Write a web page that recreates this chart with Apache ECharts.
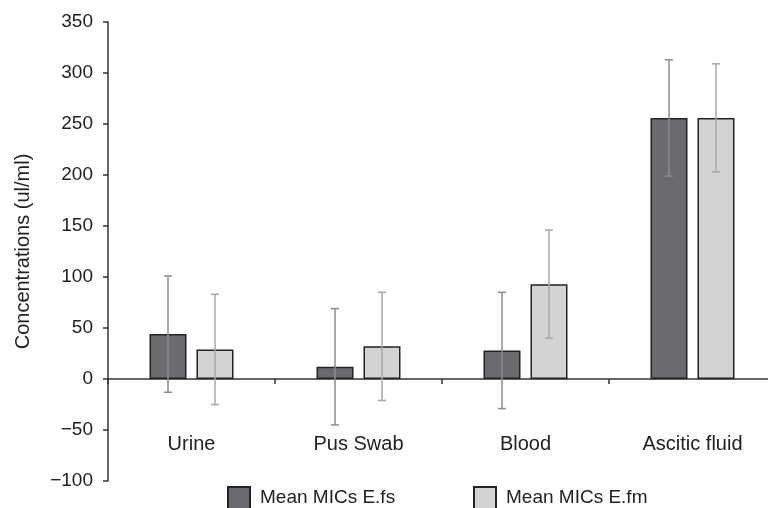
<!DOCTYPE html>
<html lang="en">
<head>
    <meta charset="UTF-8">
    <title>Mean MICs</title>
    <script src="https://cdn.jsdelivr.net/npm/echarts@6/dist/echarts.min.js"></script>
    <style>
        html, body { margin: 0; padding: 0; background: #ffffff; }
        #main { width: 768px; height: 508px; }
    </style>
</head>
<body>
<div id="main"></div>
<script type="text/javascript">
    // data
    var categories = ['Urine', 'Pus Swab', 'Blood', 'Ascitic fluid'];
    var efsMean = [44, 12, 28, 256];      // Mean MICs E.fs
    var efsErr  = [57, 57, 57, 57];
    var efmMean = [29, 32, 93, 256];      // Mean MICs E.fm
    var efmErr  = [54, 53, 53, 53];
    var yTicks  = [-100, 350, 50];        // min, max, interval

    var FONT = '"Liberation Sans", Arial, sans-serif';
    var BAR_W = 37;
    var OFFSET = 23.5;                    // half bar width + half gap

    function errData(mean, err) {
        return mean.map(function (m, i) { return [i, m, err[i]]; });
    }

    function errRender(dir, color) {
        return function (params, api) {
            var i = api.value(0), m = api.value(1), e = api.value(2);
            var top = api.coord([i, m + e]);
            var bot = api.coord([i, m - e]);
            var x = top[0] + dir * OFFSET;
            var st = { stroke: color, lineWidth: 1.5 };
            return {
                type: 'group',
                children: [
                    { type: 'line', shape: { x1: x, y1: top[1], x2: x, y2: bot[1] }, style: st },
                    { type: 'line', shape: { x1: x - 4, y1: top[1], x2: x + 4, y2: top[1] }, style: st },
                    { type: 'line', shape: { x1: x - 4, y1: bot[1], x2: x + 4, y2: bot[1] }, style: st }
                ]
            };
        };
    }

    var chart = echarts.init(document.getElementById('main'));

    var legendBase = {
        top: 486,
        padding: 0,
        icon: 'rect',
        itemWidth: 22,
        itemHeight: 22,
        textStyle: { fontFamily: FONT, fontSize: 19, color: '#222', padding: [0, 0, 0, 5] }
    };

    var option = {
        backgroundColor: '#ffffff',
        animation: false,
        legend: [
            Object.assign({ left: 227, data: ['Mean MICs E.fs'] }, legendBase),
            Object.assign({ left: 473, data: ['Mean MICs E.fm'] }, legendBase)
        ],
        grid: { left: 108, right: -8, top: 22, bottom: 27, containLabel: false, outerBoundsMode: 'none' },
        xAxis: {
            type: 'category',
            data: categories,
            axisLine: { onZero: true, lineStyle: { color: '#333', width: 1.5 } },
            axisTick: { show: true, length: 5, lineStyle: { color: '#333', width: 1.5 } },
            axisLabel: { margin: -47, fontFamily: FONT, fontSize: 20, color: '#222' }
        },
        yAxis: {
            type: 'value',
            min: yTicks[0],
            max: yTicks[1],
            interval: yTicks[2],
            name: 'Concentrations (ul/ml)',
            nameLocation: 'middle',
            nameGap: 75,
            nameTextStyle: { fontFamily: FONT, fontSize: 20, color: '#222' },
            axisLine: { show: true, lineStyle: { color: '#333', width: 1.5 } },
            axisTick: { show: true, length: 5, lineStyle: { color: '#333', width: 1.5 } },
            splitLine: { show: false },
            axisLabel: {
                margin: 15,
                fontFamily: FONT,
                fontSize: 19,
                color: '#222',
                formatter: function (v) { return String(v).replace('-', '\u2212'); }
            }
        },
        series: [
            {
                name: 'Mean MICs E.fs',
                type: 'bar',
                data: efsMean,
                barWidth: BAR_W,
                barGap: '27%',
                itemStyle: { color: '#6a6b6f', borderColor: '#222', borderWidth: 1.5 }
            },
            {
                name: 'Mean MICs E.fm',
                type: 'bar',
                data: efmMean,
                barWidth: BAR_W,
                itemStyle: { color: '#d2d3d5', borderColor: '#222', borderWidth: 1.5 }
            },
            {
                type: 'custom',
                name: 'err-fs',
                data: errData(efsMean, efsErr),
                renderItem: errRender(-1, '#8c8c8c'),
                z: 10,
                silent: true
            },
            {
                type: 'custom',
                name: 'err-fm',
                data: errData(efmMean, efmErr),
                renderItem: errRender(1, '#a8a8a8'),
                z: 10,
                silent: true
            }
        ]
    };

    chart.setOption(option);
</script>
</body>
</html>
